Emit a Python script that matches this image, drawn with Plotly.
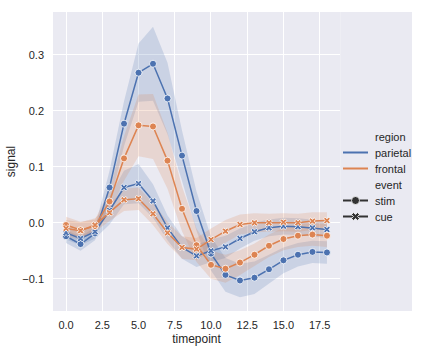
import plotly.graph_objects as go

timepoints = list(range(19))

parietal_stim = [-0.024, -0.038, -0.019, 0.063, 0.177, 0.268, 0.284, 0.222, 0.120, 0.021,
                 -0.055, -0.093, -0.103, -0.098, -0.083, -0.067, -0.057, -0.052, -0.053]
parietal_stim_hw = [0.012, 0.012, 0.012, 0.030, 0.040, 0.052, 0.066, 0.064, 0.045, 0.035,
                    0.030, 0.030, 0.030, 0.029, 0.026, 0.023, 0.021, 0.020, 0.020]

parietal_cue = [-0.018, -0.028, -0.016, 0.022, 0.063, 0.070, 0.039, -0.009, -0.044, -0.059,
                -0.050, -0.043, -0.028, -0.016, -0.009, -0.006, -0.007, -0.009, -0.012]
parietal_cue_hw = [0.012, 0.012, 0.012, 0.025, 0.030, 0.035, 0.030, 0.022, 0.020, 0.020,
                   0.020, 0.020, 0.018, 0.016, 0.015, 0.015, 0.015, 0.015, 0.015]

frontal_stim = [-0.004, -0.013, -0.006, 0.038, 0.115, 0.174, 0.172, 0.111, 0.025, -0.040,
                -0.075, -0.082, -0.071, -0.057, -0.041, -0.029, -0.023, -0.021, -0.023]
frontal_stim_hw = [0.015, 0.015, 0.012, 0.020, 0.040, 0.055, 0.058, 0.050, 0.040, 0.030,
                   0.025, 0.025, 0.022, 0.020, 0.020, 0.020, 0.020, 0.020, 0.020]

frontal_cue = [-0.010, -0.014, -0.004, 0.018, 0.041, 0.043, 0.016, -0.018, -0.044, -0.047,
               -0.030, -0.015, -0.003, 0.000, 0.000, 0.001, 0.000, 0.003, 0.004]
frontal_cue_hw = [0.015, 0.015, 0.012, 0.015, 0.020, 0.020, 0.020, 0.020, 0.020, 0.020,
                  0.020, 0.020, 0.018, 0.017, 0.016, 0.016, 0.016, 0.016, 0.015]

x_tick_vals = [0, 2.5, 5, 7.5, 10, 12.5, 15, 17.5]
x_tick_text = ["0.0", "2.5", "5.0", "7.5", "10.0", "12.5", "15.0", "17.5"]
y_tick_vals = [-0.1, 0.0, 0.1, 0.2, 0.3]
y_tick_text = ["\u22120.1", "0.0", "0.1", "0.2", "0.3"]

BLUE = "#4C72B0"
ORANGE = "#DD8452"
BLUE_FILL = "rgba(76,114,176,0.2)"
ORANGE_FILL = "rgba(221,132,82,0.2)"
FONT = "Liberation Sans, Arial, sans-serif"

series = [
    ("parietal", "stim", parietal_stim, parietal_stim_hw, BLUE, BLUE_FILL, "circle"),
    ("parietal", "cue", parietal_cue, parietal_cue_hw, BLUE, BLUE_FILL, "x"),
    ("frontal", "stim", frontal_stim, frontal_stim_hw, ORANGE, ORANGE_FILL, "circle"),
    ("frontal", "cue", frontal_cue, frontal_cue_hw, ORANGE, ORANGE_FILL, "x"),
]

fig = go.Figure()

for region, event, vals, hw, col, fillcol, sym in series:
    upper = [v + h for v, h in zip(vals, hw)]
    lower = [v - h for v, h in zip(vals, hw)]
    fig.add_trace(go.Scatter(
        x=timepoints + timepoints[::-1], y=upper + lower[::-1],
        fill="toself", fillcolor=fillcol, line=dict(width=0),
        mode="lines", hoverinfo="skip", showlegend=False))

for region, event, vals, hw, col, fillcol, sym in series:
    fig.add_trace(go.Scatter(
        x=timepoints, y=vals, mode="lines+markers",
        line=dict(color=col, width=1.5),
        marker=dict(symbol=sym, size=7 if sym == "circle" else 6, color=col,
                    line=dict(color="white", width=0.8)),
        showlegend=False, name=f"{region} {event}"))

# manual legend on an invisible pixel-scaled axis
LX0, LX1 = 343, 368
legend_rows = [
    ("region", None, None, 137),
    ("parietal", BLUE, None, 152.5),
    ("frontal", ORANGE, None, 168.5),
    ("event", None, None, 184.5),
    ("stim", "#333333", "circle", 200.5),
    ("cue", "#333333", "x", 216.5),
]
annotations = []
for label, col, sym, yy in legend_rows:
    if col is not None:
        fig.add_trace(go.Scatter(
            x=[LX0, LX1], y=[yy, yy], mode="lines", line=dict(color=col, width=2),
            xaxis="x2", yaxis="y2", showlegend=False, hoverinfo="skip"))
        if sym is not None:
            fig.add_trace(go.Scatter(
                x=[(LX0 + LX1) / 2], y=[yy], mode="markers",
                marker=dict(symbol=sym, size=8 if sym == "circle" else 7, color=col,
                            line=dict(color="white", width=0.8)),
                xaxis="x2", yaxis="y2", showlegend=False, hoverinfo="skip"))
    annotations.append(dict(
        x=373, y=yy, xref="x2", yref="y2", text=label, showarrow=False,
        xanchor="left", yanchor="middle", font=dict(size=11, color="#262626", family=FONT)))

fig.update_layout(
    width=422, height=352,
    margin=dict(l=53, r=10, t=12, b=41),
    paper_bgcolor="white", plot_bgcolor="#EAEAF2",
    font=dict(family=FONT, size=11, color="#262626"),
    showlegend=False,
    annotations=annotations,
    xaxis=dict(
        domain=[0, 0.7994], range=[-0.9, 18.9],
        tickvals=x_tick_vals, ticktext=x_tick_text,
        showgrid=True, gridcolor="white", gridwidth=1, zeroline=False,
        ticks="", ticklabelstandoff=6, showline=False,
        title=dict(text="timepoint", font=dict(size=12), standoff=4),
        tickfont=dict(size=11),
    ),
    yaxis=dict(
        range=[-0.1575, 0.3764],
        tickvals=y_tick_vals, ticktext=y_tick_text,
        showgrid=True, gridcolor="white", gridwidth=1, zeroline=False,
        ticks="", ticklabelstandoff=8, showline=False,
        title=dict(text="signal", font=dict(size=12), standoff=4),
        tickfont=dict(size=11),
    ),
    xaxis2=dict(domain=[0.8, 1], range=[340.2, 412], visible=False, anchor="y2"),
    yaxis2=dict(domain=[0, 1], range=[311, 12], visible=False, anchor="x2"),
)

fig.write_html("out.html")
